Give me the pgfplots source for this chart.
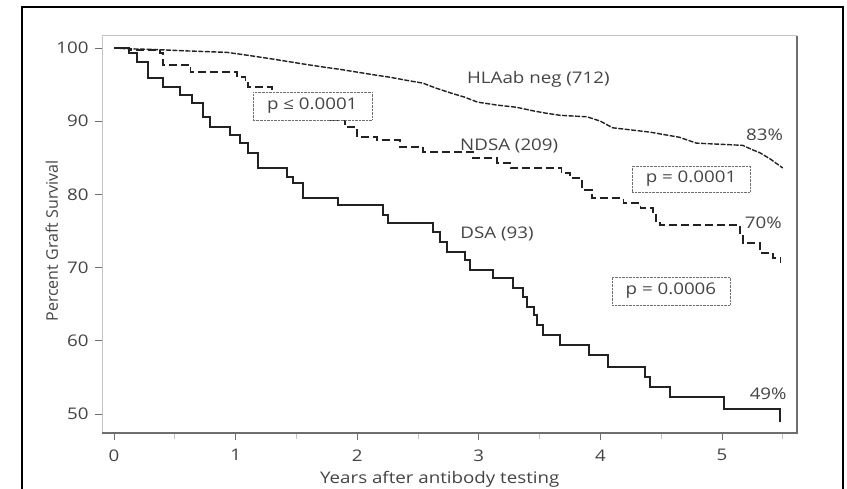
\documentclass[border=0pt]{standalone}
\usepackage{pgfplots}
\pgfplotsset{compat=1.18}
\usepackage{fontspec}
\setmainfont{Open Sans}[FakeStretch=1.17]
\newfontfamily\vfont{Open Sans}
\definecolor{txt}{HTML}{444444}
\definecolor{axl}{HTML}{C4C4C4}
\definecolor{axd}{HTML}{6E6E6E}
\definecolor{crv}{HTML}{222222}
\pgfplotstableread{
t s
0 100
0.12 99.3
0.19 98.1
0.28 95.9
0.40 94.7
0.54 93.6
0.64 92.5
0.73 90.6
0.79 89.2
0.95 88.1
1.04 87.0
1.10 85.7
1.18 83.6
1.42 82.4
1.47 81.6
1.55 79.5
1.84 78.6
2.21 77.2
2.25 76.1
2.62 74.8
2.68 73.5
2.74 72.1
2.89 71.0
2.93 69.7
3.12 68.6
3.28 67.2
3.36 66.0
3.40 64.6
3.45 63.5
3.48 62.2
3.53 60.8
3.67 59.4
3.91 58.1
4.06 56.4
4.37 55.1
4.41 53.7
4.57 52.3
5.02 50.7
5.48 48.9
}\dsa
\pgfplotstableread{
t s
0 100
0.12 99.7
0.38 99.3
0.40 97.7
0.63 96.7
1.01 96.0
1.08 95.4
1.10 94.7
1.30 93.6
1.45 92.6
1.60 91.5
1.70 90.8
1.78 90.2
1.90 89.2
2.00 87.8
2.16 87.4
2.35 86.5
2.54 85.8
2.95 85.0
3.15 84.3
3.26 83.6
3.68 82.9
3.75 82.2
3.85 80.6
3.93 79.5
4.19 78.8
4.33 78.1
4.43 77.2
4.46 76.1
4.49 75.8
5.15 74.5
5.17 73.4
5.31 72.0
5.42 71.3
5.48 70.6
}\ndsa
\pgfplotstableread{
t s
0 100
0.10 99.9
0.32 99.8
0.60 99.6
0.93 99.4
1.10 99.0
1.18 98.8
1.30 98.5
1.45 98.1
1.60 97.7
1.72 97.4
1.85 97.1
2.00 96.7
2.15 96.3
2.27 96.0
2.40 95.6
2.54 95.2
2.65 94.5
2.76 93.9
2.88 93.3
2.99 92.6
3.15 92.2
3.31 91.9
3.45 91.4
3.55 91.1
3.67 90.8
3.89 90.6
4.00 90.0
4.10 89.1
4.41 88.5
4.65 87.8
4.79 87.0
5.17 86.7
5.25 86.1
5.31 85.7
5.40 84.8
5.50 83.6
}\neg
\begin{document}
\begin{tikzpicture}[x=1bp,y=1bp]
\useasboundingbox (0,0) rectangle (847,489);
\fill[white] (0,0) rectangle (847,489);
\draw[line width=2bp,black] (22,-5) -- (22,482) -- (843,482) -- (843,-5);
\begin{axis}[
  at={(102bp,56bp)}, anchor=south west,
  scale only axis, width=695bp, height=397bp,
  xmin=-0.099, xmax=5.617, ymin=47.4, ymax=101.64,
  axis line style={draw=none},
  no marks,
  xtick={0,1,2,3,4,5}, minor xtick={0.5,1.5,2.5,3.5,4.5,5.5},
  ytick={50,60,70,80,90,100},
  tick pos=left, tick align=outside,
  major tick length=7bp, minor tick length=6bp,
  major tick style={axd, line width=0.8bp},
  minor tick style={axl, line width=0.8bp},
  /pgf/number format/assume math mode=true,
  tick label style={font=\fontsize{16bp}{19bp}\selectfont, text=txt},
  xticklabel style={yshift=-6bp},
  yticklabel style={xshift=-3bp},
  xlabel={Years after antibody testing},
  ylabel={\vfont Percent Graft Survival},
  label style={font=\fontsize{16bp}{19bp}\selectfont, text=txt},
  xlabel style={at={(rel axis cs:0.486,-0.117)}, anchor=center},
  ylabel style={at={(rel axis cs:-0.072,0.484)}, anchor=center},
  clip=false,
]
\addplot[sharp plot, line width=1.4bp, crv, dash pattern=on 5bp off 1.5bp] table[x=t,y=s] {\neg};
\addplot[const plot, line width=1.7bp, crv, dash pattern=on 8bp off 4bp] table[x=t,y=s] {\ndsa};
\addplot[const plot, line width=2bp, crv] table[x=t,y=s] {\dsa};
\draw[axl, line width=1bp] (rel axis cs:0,0) -- (rel axis cs:0,1) -- (rel axis cs:1,1);
\draw[axd, line width=1.3bp] (rel axis cs:0,0) -- (rel axis cs:1,0) -- (rel axis cs:1,1);
\begin{scope}[every node/.style={font=\fontsize{16bp}{19bp}\selectfont, text=txt}]
\node at (axis cs:3.49,95.77) {HLAab neg (712)};
\node at (axis cs:3.25,86.6) {NDSA (209)};
\node at (axis cs:3.15,74.6) {DSA (93)};
\node at (axis cs:5.35,88.1) {83\%};
\node at (axis cs:5.34,76.1) {70\%};
\node at (axis cs:5.38,52.7) {49\%};
\node[draw=axd, densely dotted, fill=white, minimum width=119bp, minimum height=28bp, inner sep=0pt] at (axis cs:1.63,92.08) {p ≤ 0.0001};
\node[draw=axd, densely dotted, fill=white, minimum width=118bp, minimum height=26bp, inner sep=0pt] at (axis cs:4.745,82.1) {p = 0.0001};
\node[draw=axd, densely dotted, fill=white, minimum width=118bp, minimum height=28bp, inner sep=0pt] at (axis cs:4.58,66.8) {p = 0.0006};
\end{scope}
\end{axis}
\end{tikzpicture}
\end{document}
